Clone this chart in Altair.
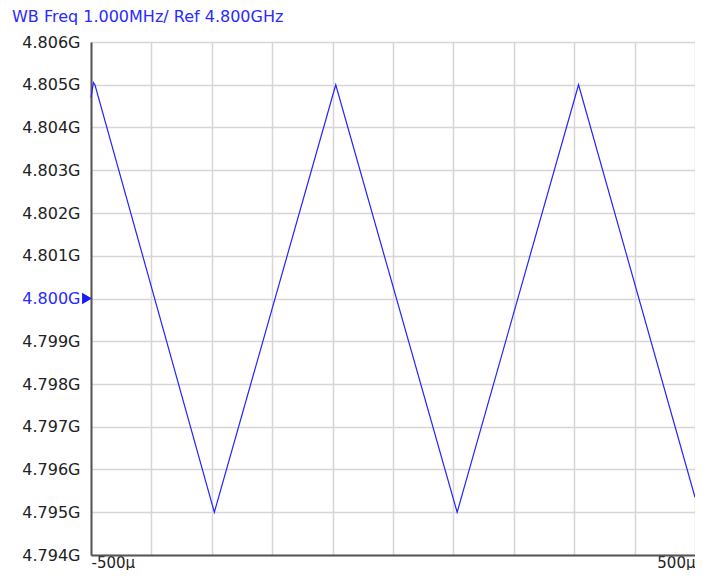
import altair as alt
import pandas as pd

# time (µs) and frequency (GHz)
t_us = [-500, -496, -493.5, -295.8, -94.8, 106.2, 307.2, 500]
freq_ghz = [4.8047, 4.80505, 4.8050, 4.7950, 4.8050, 4.7950, 4.8050, 4.79535]

y_ticks = [4.794, 4.795, 4.796, 4.797, 4.798, 4.799, 4.800, 4.801, 4.802, 4.803, 4.804, 4.805, 4.806]
x_ticks = [-500, -400, -300, -200, -100, 0, 100, 200, 300, 400, 500]
ref_level = [4.800]

df = pd.DataFrame({"t": t_us, "f": freq_ghz})
ref_df = pd.DataFrame({"f": ref_level})

FONT = "DejaVu Sans"
GRID = "#d6d6d6"

x_enc = alt.X(
    "t:Q",
    scale=alt.Scale(domain=[-500, 500], nice=False, zero=False),
    axis=alt.Axis(
        values=x_ticks,
        title=None,
        grid=True,
        gridColor=GRID,
        gridWidth=1.5,
        domainColor="#555555",
        domainWidth=2,
        ticks=False,
        labelFlush=True,
        labelPadding=0,
        labelExpr="(datum.value == -500 || datum.value == 500) ? datum.value + 'μ' : ''",
        labelFont=FONT,
        labelFontSize=15,
        labelColor="#222222",
    ),
)

y_enc = alt.Y(
    "f:Q",
    scale=alt.Scale(domain=[4.794, 4.806], nice=False, zero=False),
    axis=alt.Axis(
        values=y_ticks,
        title=None,
        grid=True,
        gridColor=GRID,
        gridWidth=1.5,
        domainColor="#555555",
        domainWidth=2,
        ticks=False,
        labelPadding=11,
        labelExpr="format(datum.value, '.3f') + 'G'",
        labelFont=FONT,
        labelFontSize=16,
        labelColor=alt.ExprRef(expr="abs(datum.value - 4.8) < 1e-9 ? '#2a2aff' : '#222222'"),
    ),
)

line = alt.Chart(df).mark_line(color="#2424ff", strokeWidth=1.2).encode(x=x_enc, y=y_enc)

marker = alt.Chart(ref_df).mark_point(
    shape="triangle-right", filled=True, color="#1a1aff", size=130, opacity=1, clip=False
).encode(x=alt.value(-4), y=alt.Y("f:Q", scale=alt.Scale(domain=[4.794, 4.806], nice=False, zero=False)))

chart = (
    alt.layer(line, marker)
    .properties(
        width=604,
        height=513,
        autosize=alt.AutoSizeParams(type="none"),
        padding={"left": 83, "top": 34, "right": 0, "bottom": 15},
        title=alt.TitleParams(
            text="WB Freq 1.000MHz/ Ref 4.800GHz",
            anchor="start",
            frame="group",
            dx=-79,
            offset=9,
            font=FONT,
            fontSize=16,
            fontWeight="normal",
            color="#2a2aff",
        ),
    )
    .configure_view(stroke="#555555", strokeWidth=2)
    .configure(background="white")
)

chart.save("out.html", embed_options={"renderer": "svg", "actions": False})
